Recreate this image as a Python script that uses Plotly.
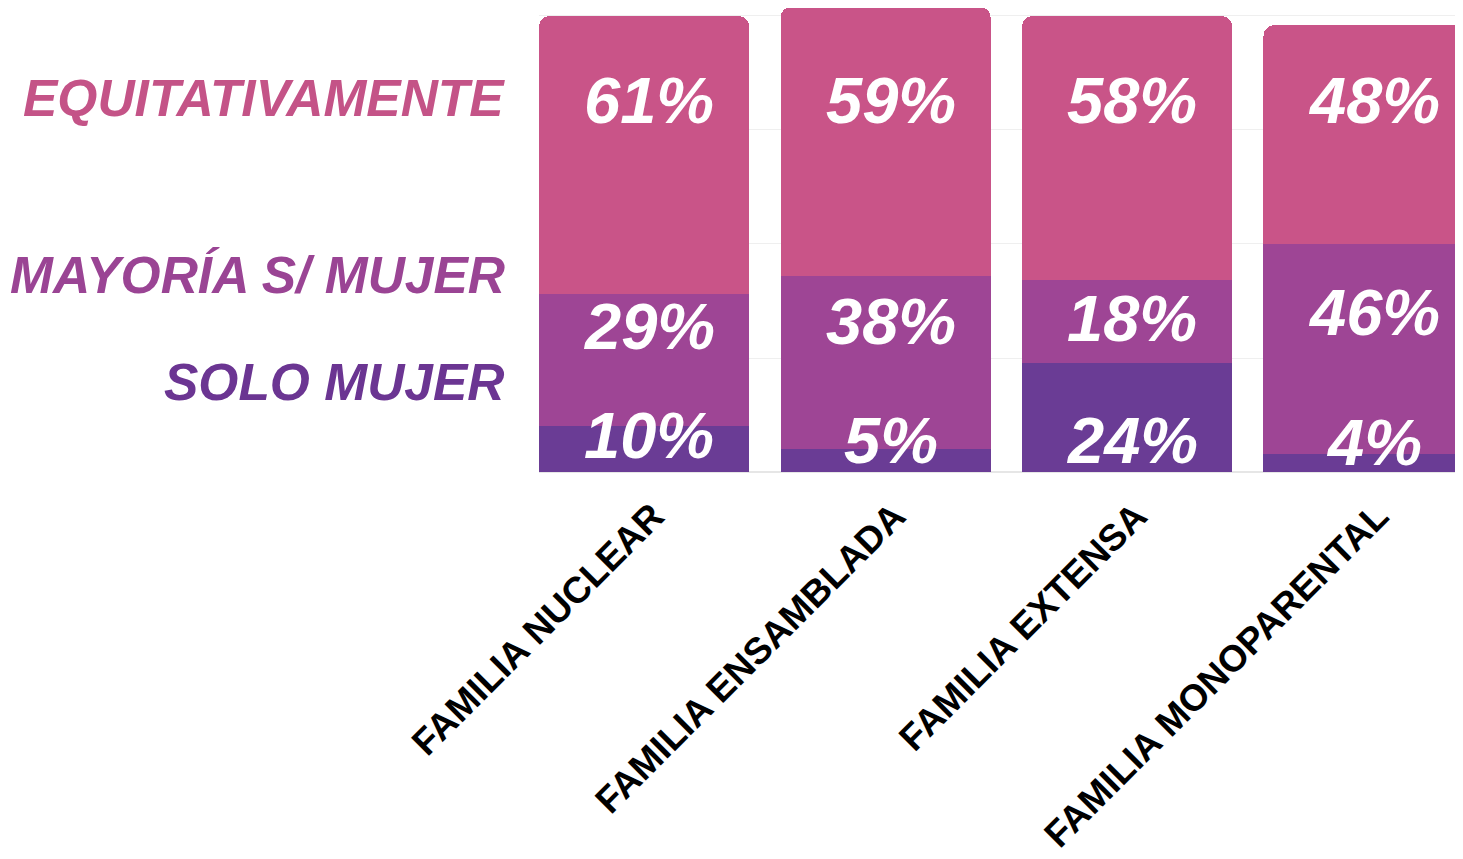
import plotly.graph_objects as go

# --- DATA ---
familias = ["FAMILIA NUCLEAR", "FAMILIA ENSAMBLADA", "FAMILIA EXTENSA", "FAMILIA MONOPARENTAL"]
solo_mujer = [10, 5, 24, 4]
mayoria_mujer = [29, 38, 18, 46]
equitativamente = [61, 59, 58, 48]

series_names = ["SOLO MUJER", "MAYORÍA S/ MUJER", "EQUITATIVAMENTE"]

# --- STYLE ---
COLORS = ["#6A3C95", "#9E4595", "#C95488"]
LABEL_COLORS = ["#6B3592", "#9A4494", "#C45387"]
FONT = "Liberation Sans, Arial, sans-serif"

# heights where the percentage labels sit (y units)
label_y = [
    [8.1, 7.0, 7.0, 6.4],
    [31.8, 32.9, 33.7, 35.0],
    [81.5, 81.5, 81.5, 81.5],
]
legend_y = [19.7, 43.2, 82.0]

fig = go.Figure()
for name, vals, col in zip(series_names, [solo_mujer, mayoria_mujer, equitativamente], COLORS):
    fig.add_trace(go.Bar(x=familias, y=vals, name=name, marker=dict(color=col, line=dict(width=0)),
                         showlegend=False))

annotations = []
for vals, ys in zip([solo_mujer, mayoria_mujer, equitativamente], label_y):
    for fam, v, yy in zip(familias, vals, ys):
        annotations.append(dict(
            x=fam, y=yy, xref="x", yref="y", text=f"{v}%", showarrow=False, xshift=5,
            font=dict(family=FONT, size=65, color="white", weight="bold", style="italic"),
        ))

for name, yy, col in zip(series_names, legend_y, LABEL_COLORS):
    annotations.append(dict(
        x=-0.035, y=yy, xref="paper", yref="y", text=name, showarrow=False,
        xanchor="right", yanchor="middle",
        font=dict(family=FONT, size=51.5, color=col, weight="bold", style="italic"),
    ))

# page body has an 8px margin, so the figure is a bit smaller than the window
fig.update_layout(
    width=1447, height=843,
    barmode="stack",
    bargap=0.13,
    barcornerradius=11,
    plot_bgcolor="white",
    paper_bgcolor="white",
    margin=dict(l=531, r=0, t=0, b=379),
    annotations=annotations,
    xaxis=dict(
        range=[-0.435, 3.358],
        tickangle=-45,
        tickfont=dict(family=FONT, size=37, color="black", weight="bold"),
        ticklabelstandoff=14,
        ticklabelshift=9,
        automargin=False,
        showgrid=False,
        ticks="",
    ),
    yaxis=dict(
        range=[0, 101.75],
        tickvals=[0, 25, 50, 75, 100],
        showticklabels=False,
        automargin=False,
        showgrid=True,
        gridcolor="#efefef",
        gridwidth=1,
        zeroline=True,
        zerolinecolor="#e6e6e6",
    ),
)

fig.write_html("out.html")
